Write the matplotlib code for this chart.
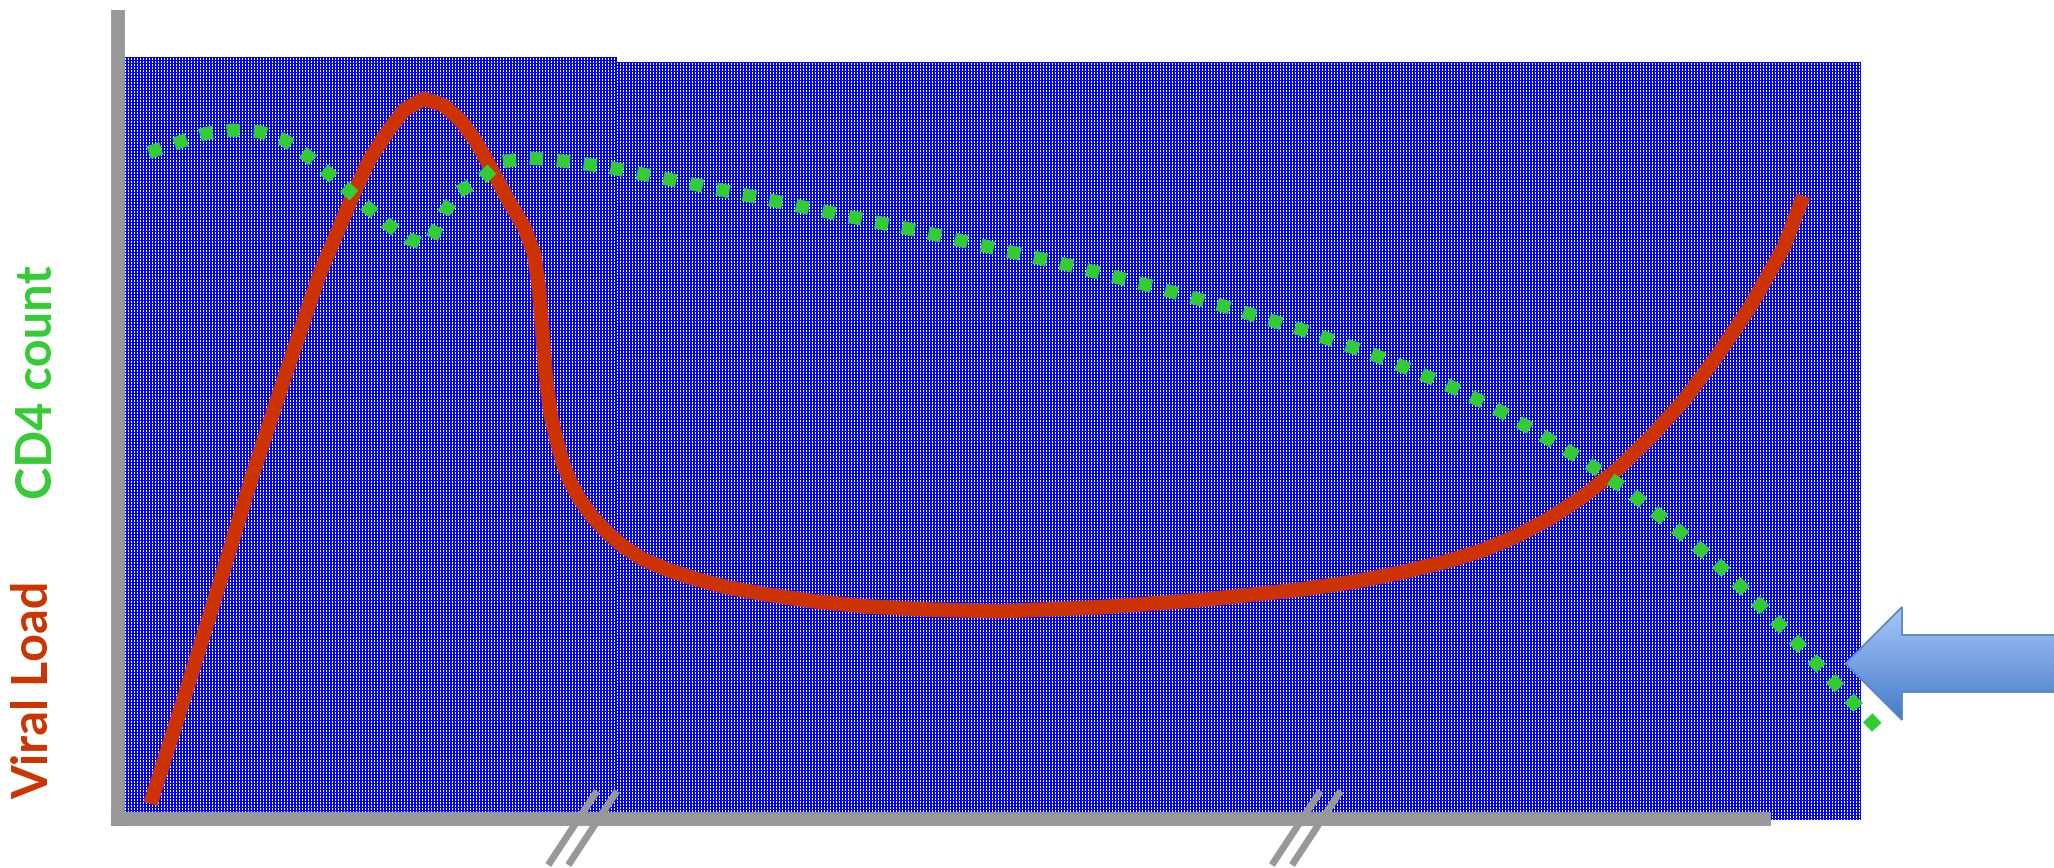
import numpy as np
import matplotlib.pyplot as plt
from matplotlib.patches import Polygon

# Courbes (temps arbitraire 0-100, niveau 0-100)
vl_time = [2.0, 4.2, 6.2, 8.2, 10.3, 12.3, 13.3, 14.3, 15.3, 16.4, 17.4, 18.6, 19.8, 20.8,
           21.8, 22.8, 23.8, 24.7, 25.3, 25.6, 25.8, 26.0, 26.3, 26.6, 27.0, 27.5, 28.1,
           28.8, 29.7, 30.7, 31.9, 33.4, 35.0, 37.0, 39.4, 42.5, 45.5, 49.5, 53.6, 59.7,
           65.8, 71.8, 74.9, 77.9, 80.9, 82.9, 85.0, 87.0, 89.0, 91.1, 93.1, 95.1, 97.1,
           99.2, 101.2, 102.4]
vl_level = [1.9, 16.1, 29.4, 42.9, 56.0, 68.1, 72.9, 77.8, 82.2, 85.7, 88.4, 89.8, 89.0, 87.2,
            84.4, 80.7, 76.9, 73.8, 70.5, 66.2, 60.9, 55.4, 50.5, 47.8, 44.7, 42.0, 39.8,
            37.8, 35.8, 34.0, 32.4, 31.1, 30.0, 28.9, 28.0, 27.1, 26.5, 26.1, 25.9, 26.4,
            27.3, 28.6, 29.5, 30.7, 32.2, 33.5, 35.3, 37.5, 40.2, 43.6, 47.6, 52.1, 57.6,
            64.0, 71.3, 77.7]

cd4_time = [1.9, 3.9, 5.4, 7.0, 8.6, 10.1, 11.4, 12.7, 13.9, 15.1, 16.3, 17.6, 18.4, 19.1,
            19.8, 20.7, 22.1, 23.2, 24.9, 26.5, 29.7, 34.4, 39.1, 43.8, 48.5, 53.2, 57.9,
            62.5, 67.1, 71.8, 76.3, 80.7, 83.6, 86.4, 89.2, 91.8, 94.3, 96.8, 99.1, 101.4,
            103.6, 105.8, 107.0]
cd4_level = [83.1, 84.5, 85.5, 85.9, 85.7, 84.7, 82.9, 80.7, 78.6, 76.4, 74.3, 72.4, 71.8, 72.4,
             75.5, 78.2, 79.8, 81.9, 82.4, 82.2, 81.3, 79.4, 77.4, 75.4, 73.4, 71.2, 69.0,
             66.6, 64.0, 61.1, 57.9, 54.2, 51.3, 48.0, 44.5, 40.8, 36.8, 32.5, 28.0, 23.3,
             18.5, 13.7, 11.1]

breaks = [28.6, 72.55]

RED = '#CC3300'
GREEN = '#33CC33'
GRAY = '#989898'

W, H = 2054, 868
fig = plt.figure(figsize=(W / 100, H / 100), dpi=100)
ax = fig.add_axes([117.5 / W, (H - 819) / H, (1764 - 117.5) / W, (819 - 17) / H], zorder=1)
ax.set_facecolor('none')
ax.set_xlim(0, 100)
ax.set_ylim(0, 100)
ax.set_xticks([]); ax.set_yticks([])
for s in ['top', 'right']:
    ax.spines[s].set_visible(False)
for s in ['left', 'bottom']:
    ax.spines[s].set_color(GRAY)
    ax.spines[s].set_linewidth(10)
    ax.spines[s].set_capstyle('projecting')

# fond bleu tramé (motif blanc sur bleu)
def trame(x0, x1, y0, y1):
    (px0, py0) = ax.transData.transform((x0, y0))
    (px1, py1) = ax.transData.transform((x1, y1))
    w, h = int(round(px1 - px0)), int(round(py1 - py0))
    arr = np.zeros((h, w, 3), dtype=np.uint8)
    arr[..., 2] = 255
    arr[1::3, 1::3] = 255
    arr[2::3, 1::3] = 255
    fig.figimage(arr, xo=int(round(px0)), yo=int(round(py0)), origin='upper', zorder=0)

trame(0, 30.28, -0.12, 95.0)
trame(30.28, 105.9, -0.12, 94.39)

ax.plot(vl_time, vl_level, color=RED, lw=10.5, solid_capstyle='butt',
        solid_joinstyle='round', clip_on=False, zorder=2)
ax.plot(cd4_time, cd4_level, color=GREEN, lw=9.5, linestyle=(0, (1, 1.05)),
        dash_capstyle='butt', clip_on=False, zorder=3)

# marques de coupure sur l'axe des x
for b in breaks:
    for off in (-0.61, 0.61):
        ax.plot([b + off - 1.83, b + off + 1.13], [-5.74, 3.49], color=GRAY, lw=5,
                solid_capstyle='butt', clip_on=False, zorder=4)

fig.text(51.7 / W, (H - 382.5) / H, 'CD4 count', rotation=90, rotation_mode='anchor',
         ha='center', va='baseline', fontsize=35, fontweight='bold', family='Lato', color=GREEN)
fig.text(48.3 / W, (H - 689.5) / H, 'Viral Load', rotation=90, rotation_mode='anchor',
         ha='center', va='baseline', fontsize=35, fontweight='bold', family='Lato', color=RED)

# flèche bleue en dégradé
aax = fig.add_axes([1843 / W, (H - 722) / H, (W - 1843) / W, 117 / H], zorder=2)
aax.set_xlim(1843, W)
aax.set_ylim(722, 605)
aax.axis('off')
top = np.array([168, 200, 250]) / 255
bot = np.array([68, 122, 200]) / 255
t = np.linspace(0, 1, 120)[:, None, None]
grad = np.repeat(top + (bot - top) * t, 2, axis=1)
im = aax.imshow(grad, extent=(1843, W, 722, 605), aspect='auto', interpolation='bilinear')
poly = Polygon([(1845.5, 663.5), (1902, 607), (1902, 635), (W + 10, 635), (W + 10, 692),
                (1902, 692), (1902, 720)], closed=True, facecolor='none',
               edgecolor='#5A86C0', lw=1.3)
aax.add_patch(poly)
im.set_clip_path(poly)

fig.savefig('out.png', dpi=100)
